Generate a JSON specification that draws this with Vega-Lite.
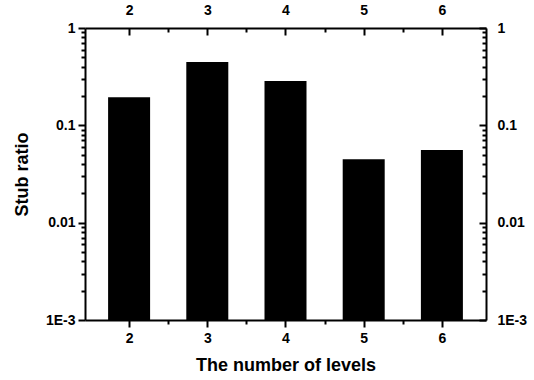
{
  "$schema": "https://vega.github.io/schema/vega-lite/v6.json",
  "width": 401,
  "height": 292,
  "autosize": {"type": "none"},
  "padding": {"left": 85, "top": 28, "right": 48, "bottom": 60},
  "background": "white",
  "data": {
    "values": [
      {"levels": 2, "ratio": 0.194},
      {"levels": 3, "ratio": 0.447},
      {"levels": 4, "ratio": 0.285},
      {"levels": 5, "ratio": 0.0447},
      {"levels": 6, "ratio": 0.0557}
    ]
  },
  "resolve": {"axis": {"x": "independent", "y": "independent"}},
  "layer": [
    {
      "mark": {"type": "bar", "color": "black", "size": 42},
      "encoding": {
        "x": {
          "field": "levels", "type": "quantitative",
          "scale": {"domain": [1.5, 6.5], "nice": false, "zero": false},
          "axis": {"orient": "bottom", "title": "The number of levels", "values": [2, 3, 4, 5, 6], "tickSize": 7, "labelPadding": 4, "titlePadding": 11, "zindex": 1}
        },
        "y": {
          "field": "ratio", "type": "quantitative",
          "scale": {"type": "log", "domain": [0.001, 1], "nice": false},
          "axis": {"orient": "left", "title": "Stub ratio", "values": [0.001, 0.01, 0.1, 1], "tickSize": 7, "labelPadding": 3, "titlePadding": 14, "zindex": 1,
            "labelExpr": "datum.value > 0.5 ? '1' : datum.value > 0.05 ? '0.1' : datum.value > 0.005 ? '0.01' : '1E-3'"}
        },
        "y2": {"datum": 0.001}
      }
    },
    {
      "mark": {"type": "point", "opacity": 0},
      "encoding": {
        "x": {
          "field": "levels", "type": "quantitative",
          "axis": {"orient": "top", "title": null, "values": [2, 3, 4, 5, 6], "tickSize": -7, "labelPadding": 18, "zindex": 1}
        },
        "y": {
          "field": "ratio", "type": "quantitative",
          "axis": {"orient": "right", "title": null, "values": [0.001, 0.01, 0.1, 1], "tickSize": -7, "labelPadding": 18, "zindex": 1,
            "labelExpr": "datum.value > 0.5 ? '1' : datum.value > 0.05 ? '0.1' : datum.value > 0.005 ? '0.01' : '1E-3'"}
        }
      }
    },
    {
      "mark": {"type": "point", "opacity": 0},
      "encoding": {
        "x": {
          "field": "levels", "type": "quantitative",
          "axis": {"orient": "bottom", "title": null, "values": [2.5, 3.5, 4.5, 5.5], "labels": false, "domain": false, "tickSize": 4, "zindex": 1}
        },
        "y": {
          "field": "ratio", "type": "quantitative",
          "axis": {"orient": "left", "title": null, "labels": false, "domain": false, "tickSize": 4, "zindex": 1,
            "values": [0.002, 0.003, 0.004, 0.005, 0.006, 0.007, 0.008, 0.009, 0.02, 0.03, 0.04, 0.05, 0.06, 0.07, 0.08, 0.09, 0.2, 0.3, 0.4, 0.5, 0.6, 0.7, 0.8, 0.9]}
        }
      }
    },
    {
      "mark": {"type": "point", "opacity": 0},
      "encoding": {
        "x": {
          "field": "levels", "type": "quantitative",
          "axis": {"orient": "top", "title": null, "values": [2.5, 3.5, 4.5, 5.5], "labels": false, "domain": false, "tickSize": -4, "zindex": 1}
        },
        "y": {
          "field": "ratio", "type": "quantitative",
          "axis": {"orient": "right", "title": null, "labels": false, "domain": false, "tickSize": -4, "zindex": 1,
            "values": [0.002, 0.003, 0.004, 0.005, 0.006, 0.007, 0.008, 0.009, 0.02, 0.03, 0.04, 0.05, 0.06, 0.07, 0.08, 0.09, 0.2, 0.3, 0.4, 0.5, 0.6, 0.7, 0.8, 0.9]}
        }
      }
    }
  ],
  "config": {
    "view": {"stroke": null},
    "axis": {
      "grid": false,
      "domainColor": "black", "domainWidth": 2,
      "tickColor": "black", "tickWidth": 2,
      "labelFont": "Liberation Sans", "labelFontWeight": "bold", "labelFontSize": 14, "labelColor": "black",
      "labelFlush": false, "labelOverlap": false,
      "titleFont": "Liberation Sans", "titleFontWeight": "bold", "titleFontSize": 18, "titleColor": "black"
    }
  }
}
